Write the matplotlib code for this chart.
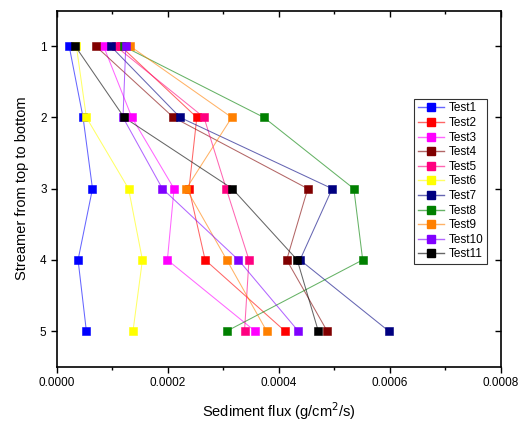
import matplotlib
matplotlib.use('Agg')
import matplotlib.pyplot as plt
from matplotlib.colors import to_rgba
from matplotlib.ticker import MultipleLocator

plt.rcParams['font.family'] = ['Liberation Sans', 'DejaVu Sans']

streamer = [1, 2, 3, 4, 5]

# sediment flux per streamer (g/cm2/s)
test1 = [2.2e-5, 4.7e-5, 6.4e-5, 3.8e-5, 5.3e-5]
test2 = [1.15e-4, 2.52e-4, 2.38e-4, 2.67e-4, 4.11e-4]
test3 = [8.4e-5, 1.35e-4, 2.11e-4, 1.99e-4, 3.57e-4]
test4 = [7.0e-5, 2.10e-4, 4.52e-4, 4.14e-4, 4.87e-4]
test5 = [1.06e-4, 2.65e-4, 3.05e-4, 3.46e-4, 3.38e-4]
test6 = [3.5e-5, 5.3e-5, 1.29e-4, 1.54e-4, 1.37e-4]
test7 = [9.7e-5, 2.22e-4, 4.96e-4, 4.38e-4, 5.98e-4]
test8 = [1.2e-4, 3.73e-4, 5.35e-4, 5.51e-4, 3.06e-4]
test9 = [1.32e-4, 3.15e-4, 2.33e-4, 3.06e-4, 3.78e-4]
test10 = [1.24e-4, 1.19e-4, 1.90e-4, 3.27e-4, 4.35e-4]
test11 = [3.3e-5, 1.21e-4, 3.16e-4, 4.33e-4, 4.71e-4]

series = [test1, test2, test3, test4, test5, test6,
          test7, test8, test9, test10, test11]
labels = ['Test%d' % (i + 1) for i in range(11)]
colors = ['#0000ff', '#ff0000', '#ff00ff', '#800000', '#ff0080', '#ffff00',
          '#000080', '#008000', '#ff8000', '#8000ff', '#000000']

fig = plt.figure(figsize=(5.3, 4.24), dpi=100)
ax = fig.add_axes([0.1075, 0.135, 0.8375, 0.84])

for vals, lab, c in zip(series, labels, colors):
    faded = to_rgba(c, 0.6)
    ax.plot(vals, streamer, color=faded, lw=0.75, zorder=2)
    ax.plot(vals, streamer, ls='none', marker='s', ms=5.5,
            mfc=c, mec=c, mew=0.4, zorder=3)
    # legend proxy: faded line, solid marker
    ax.plot([], [], color=faded, lw=1.0, marker='s', ms=6,
            mfc=c, mec=c, label=lab)

ax.set_xlim(0, 0.0008)
ax.set_ylim(5.5, 0.5)
ax.xaxis.set_major_locator(MultipleLocator(0.0002))
ax.xaxis.set_minor_locator(MultipleLocator(0.0001))
ax.yaxis.set_major_locator(MultipleLocator(1))
ax.xaxis.set_major_formatter(lambda v, p: '%.4f' % v)

ax.tick_params(axis='both', which='both', direction='out', labelsize=8.5)
ax.tick_params(which='major', length=4, width=1)
ax.tick_params(which='minor', length=2.5, width=1)
ax.tick_params(top=True, right=True, which='both')
# mirrored ticks on top/right point inward
for t in ax.xaxis.get_ticklines(minor=False)[1::2] + ax.xaxis.get_ticklines(minor=True)[1::2]:
    t.set_marker(3)
for t in ax.yaxis.get_ticklines()[1::2]:
    t.set_marker(0)
for s in ax.spines.values():
    s.set_linewidth(1.2)

ax.set_xlabel('Sediment flux (g/cm$^2$/s)', fontsize=10.5, labelpad=8)
ax.set_ylabel('Streamer from top to bottom', fontsize=10.5, labelpad=8)

leg = ax.legend(loc='upper left', bbox_to_anchor=(0.805, 0.752), fontsize=8.5,
                frameon=True, fancybox=False, edgecolor='black',
                labelspacing=0.22, handlelength=2.2, handletextpad=0.4,
                borderpad=0.3, borderaxespad=0)
leg.get_frame().set_linewidth(0.8)

fig.savefig('out.png', dpi=100)
